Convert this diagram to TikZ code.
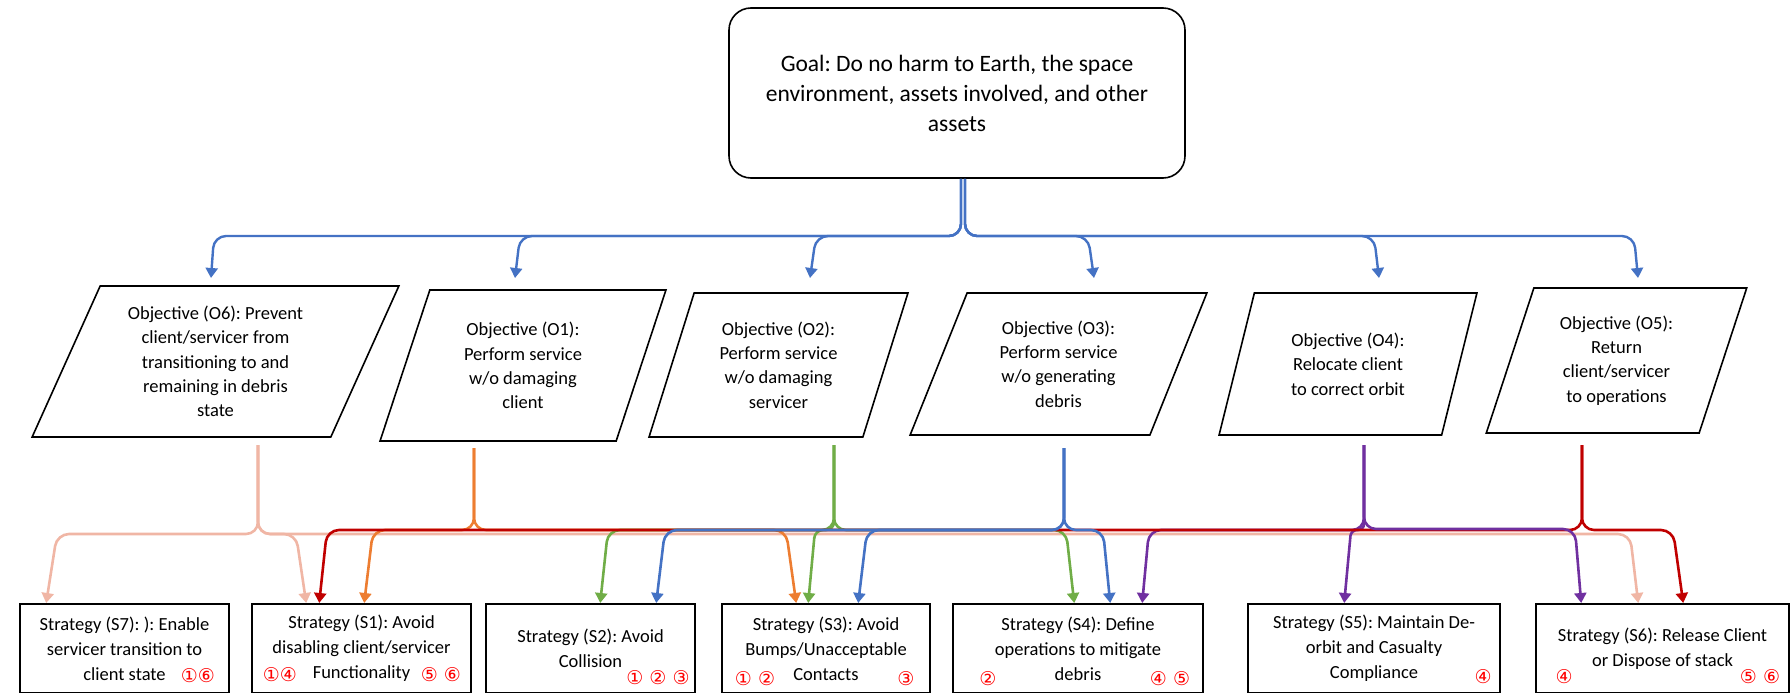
\documentclass[tikz,border=0pt]{standalone}
\usepackage{fontspec}
\setmainfont{Carlito}
\newfontfamily\circfont{DejaVu Sans}
\usetikzlibrary{shapes.geometric, arrows.meta}

\definecolor{goalblue}{HTML}{4472C4}
\definecolor{objorange}{HTML}{ED7D31}
\definecolor{objgreen}{HTML}{70AD47}
\definecolor{objblue}{HTML}{4472C4}
\definecolor{objpurple}{HTML}{7030A0}
\definecolor{objred}{HTML}{C00000}
\definecolor{objpink}{RGB}{240,182,165}

\frenchspacing

\begin{document}
\begin{tikzpicture}[%
    x = 1pt, y = -1pt,
    goalbox/.style = {draw, line width=1.6pt, rounded corners=22pt, minimum width=456pt, minimum height=170pt, align=center, font=\fontsize{23.5}{30}\selectfont},
    objbox/.style = {draw, line width=1.6pt, trapezium, trapezium left angle=70, trapezium right angle=110, trapezium stretches=true, inner sep=0pt, align=center, font=\fontsize{18.5}{24.3}\selectfont},
    stratbox/.style = {draw, line width=1.6pt, anchor=north, minimum height=89pt, align=center, font=\fontsize{18.5}{25}\selectfont},
    refmark/.style = {text=red, inner sep=0pt, font=\circfont\fontsize{19}{19}\selectfont},
    goallink/.style = {draw=goalblue, line width=2.4pt, rounded corners=12pt, -{Triangle[length=10pt,width=12pt]}},
    objlink/.style = {line width=2.6pt, rounded corners=12pt, -{Triangle[length=10pt,width=12pt]}}%
  ]
  \useasboundingbox (0,0) rectangle (1791,693);

  % goal
  \node[goalbox] (goal) at (957,93) {Goal: Do no harm to Earth, the space\\environment, assets involved, and other\\assets};

  % objectives
  \node[objbox, trapezium left angle=65, trapezium right angle=115, minimum width=367pt, minimum height=151pt] (o6) at (215.5,361.5)
    {Objective (O6): Prevent\\client/servicer from\\transitioning to and\\remaining in debris\\state};
  \node[objbox, minimum width=286pt, minimum height=151pt] (o1) at (523,365.5)
    {Objective (O1):\\Perform service\\w/o damaging\\client};
  \node[objbox, minimum width=259pt, minimum height=144pt] (o2) at (778.5,365)
    {Objective (O2):\\Perform service\\w/o damaging\\servicer};
  \node[objbox, trapezium left angle=67, trapezium right angle=113, minimum width=297pt, minimum height=142pt] (o3) at (1058.5,364)
    {Objective (O3):\\Perform service\\w/o generating\\debris};
  \node[objbox, trapezium left angle=71, trapezium right angle=109, minimum width=258pt, minimum height=142pt] (o4) at (1348,364)
    {Objective (O4):\\Relocate client\\to correct orbit};
  \node[objbox, minimum width=261pt, minimum height=145pt] (o5) at (1616.5,360.5)
    {Objective (O5):\\Return\\client/servicer\\to operations};

  % strategies
  \node[stratbox, minimum width=209pt] (s7) at (124.5,603) {Strategy (S7): ): Enable\\servicer transition to\\client state};
  \node[stratbox, minimum width=219pt] (s1) at (361.5,603) {Strategy (S1): Avoid\\disabling client/servicer\\Functionality};
  \node[stratbox, minimum width=209pt] (s2) at (590.5,603) {Strategy (S2): Avoid\\Collision};
  \node[stratbox, minimum width=208pt] (s3) at (826,603) {Strategy (S3): Avoid\\Bumps/Unacceptable\\Contacts};
  \node[stratbox, minimum width=250pt] (s4) at (1078,603) {Strategy (S4): Define\\operations to mitigate\\debris};
  \node[stratbox, minimum width=252pt] (s5) at (1374,603) {Strategy (S5): Maintain De-\\orbit and Casualty\\Compliance};
  \node[stratbox, minimum width=253pt] (s6) at (1662.5,603) {Strategy (S6): Release Client\\or Dispose of stack};

  % objective numbers
  \node[refmark] (r7) at (198,676) {①⑥};
  \node[refmark] (r1a) at (280,675) {①④};
  \node[refmark] (r1b) at (441,675) {⑤ ⑥};
  \node[refmark] (r2) at (658,678) {① ② ③};
  \node[refmark] (r3a) at (755,679) {① ②};
  \node[refmark] (r3b) at (906,679) {③};
  \node[refmark] (r4a) at (988,679) {②};
  \node[refmark] (r4b) at (1170,679) {④ ⑤};
  \node[refmark] (r5) at (1483,677) {④};
  \node[refmark] (r6a) at (1564,677) {④};
  \node[refmark] (r6b) at (1760,677) {⑤ ⑥};

  % ends of the links
  \coordinate (o6in) at (211,278);
  \coordinate (o1in) at (515,278);
  \coordinate (o2in) at (810,278);
  \coordinate (o3in) at (1094,278);
  \coordinate (o4in) at (1379,278);
  \coordinate (o5in) at (1638,278);
  \coordinate (o6out) at (258,445);
  \coordinate (o1out) at (474,448);
  \coordinate (o2out) at (834,445);
  \coordinate (o3out) at (1064,448);
  \coordinate (o4out) at (1364,445);
  \coordinate (o5out) at (1582,445);

  % goal -> objectives
  \draw[goallink] ([xshift=4pt]goal.south) |- (214,236) -- (o6in);
  \draw[goallink] ([xshift=4pt]goal.south) |- (520,236) -- (o1in);
  \draw[goallink] ([xshift=4pt]goal.south) |- (816,236) -- (o2in);
  \draw[goallink] ([xshift=8pt]goal.south) |- (1088,236) -- (o3in);
  \draw[goallink] ([xshift=8pt]goal.south) |- (1374,236) -- (o4in);
  \draw[goallink] ([xshift=8pt]goal.south) |- (1634,236) -- (o5in);

  % objectives -> strategies
  \draw[objlink, objpink] (o6out) |- (57,534) -- ([xshift=27pt]s7.north west);
  \draw[objlink, objpink] (o6out) |- (296,534) -- ([xshift=55pt]s1.north west);
  \draw[objlink, objpink] (o6out) |- (1630,534) -- ([xshift=103pt]s6.north west);

  \draw[objlink, objorange] (o1out) |- (373,530) -- ([xshift=113pt]s1.north west);
  \draw[objlink, objorange] (o1out) |- (786,530) -- ([xshift=75pt]s3.north west);

  \draw[objlink, objgreen] (o2out) |- (608,530) -- ([xshift=115pt]s2.north west);
  \draw[objlink, objgreen, rounded corners=8pt] (o2out) |- (815,530) -- ([xshift=87pt]s3.north west);
  \draw[objlink, objgreen] (o2out) |- (1066,530) -- ([xshift=122pt]s4.north west);

  \draw[objlink, objpurple] (o4out) |- (1149,530) -- ([xshift=190pt]s4.north west);
  \draw[objlink, objpurple, rounded corners=6pt] (o4out) |- (1351,530) -- ([xshift=97pt]s5.north west);

  \draw[objlink, objred] (o5out) |- (327,530) -- ([xshift=68pt]s1.north west);
  \draw[objlink, objred] (o5out) |- (1673,530) -- ([xshift=148pt]s6.north west);

  \draw[objlink, objblue] (o3out) |- (665,530) -- ([xshift=171pt]s2.north west);
  \draw[objlink, objblue] (o3out) |- (867,530) -- ([xshift=137pt]s3.north west);
  \draw[objlink, objblue] (o3out) |- (1103,530) -- ([xshift=158pt]s4.north west);

  \draw[objlink, objpurple] (o4out) |- (1575,529) -- ([xshift=46pt]s6.north west);
\end{tikzpicture}
\end{document}
